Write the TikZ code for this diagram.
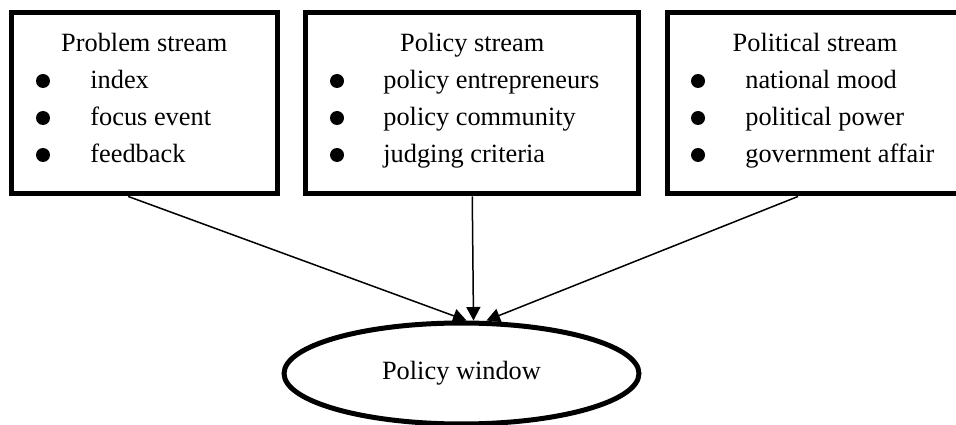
\documentclass[tikz,border=0pt]{standalone}
\usepackage{fontspec}
\setmainfont{Liberation Serif}
\usepackage{tikz}
\usetikzlibrary{shapes.geometric,arrows.meta}
\tikzstyle{stream} = [rectangle, draw=black, line width=0.1cm, minimum height=3.64cm, inner sep=0pt]
\tikzstyle{window} = [ellipse, draw=black, line width=0.1cm, minimum width=7.1cm, minimum height=2.02cm, inner sep=0pt]
\tikzstyle{title} = [anchor=base, inner sep=0pt]
\tikzstyle{item} = [anchor=base west, inner sep=0pt]
\tikzstyle{dot} = [circle, fill=black, inner sep=0pt, minimum size=0.28cm]
\tikzstyle{arrow} = [line width=0.03cm,-{Triangle[length=0.27cm,width=0.28cm]}]

\begin{document}
\begin{tikzpicture}[x=0.02cm, y=-0.02cm, font=\fontsize{15}{18}\selectfont]
\useasboundingbox (0,0) rectangle (956,425);

% the three streams
\node (problem) [stream, minimum width=5.33cm] at (144.25,103) {};
\node (policy) [stream, minimum width=6.67cm] at (472.25,103) {};
\node (political) [stream, minimum width=5.9cm] at (815,103) {};
\node (window) [window] at (461.5,373.5) {Policy window};

\node (problemtitle) [title] at (144.25,52) {Problem stream};
\foreach \txt [count=\i] in {index, focus event, feedback} {
  \node (problemdot\i) [dot] at (43,44+37*\i) {};
  \node (problemitem\i) [item] at (90,52+37*\i) {\txt};
}

\node (policytitle) [title] at (472.25,52) {Policy stream};
\foreach \txt [count=\i] in {policy entrepreneurs, policy community, judging criteria} {
  \node (policydot\i) [dot] at (337,44+37*\i) {};
  \node (policyitem\i) [item] at (383,52+37*\i) {\txt};
}

\node (politicaltitle) [title] at (815,52) {Political stream};
\foreach \txt [count=\i] in {national mood, political power, government affair} {
  \node (politicaldot\i) [dot] at (698,44+37*\i) {};
  \node (politicalitem\i) [item] at (745,52+37*\i) {\txt};
}

\draw [arrow] ([xshift=-0.32cm]problem.south) -- ([xshift=0.1cm]window.north);
\draw [arrow] (policy.south) -- ([xshift=0.24cm]window.north);
\draw [arrow] ([xshift=-0.34cm]political.south) -- ([xshift=0.5cm]window.north);
\end{tikzpicture}
\end{document}
